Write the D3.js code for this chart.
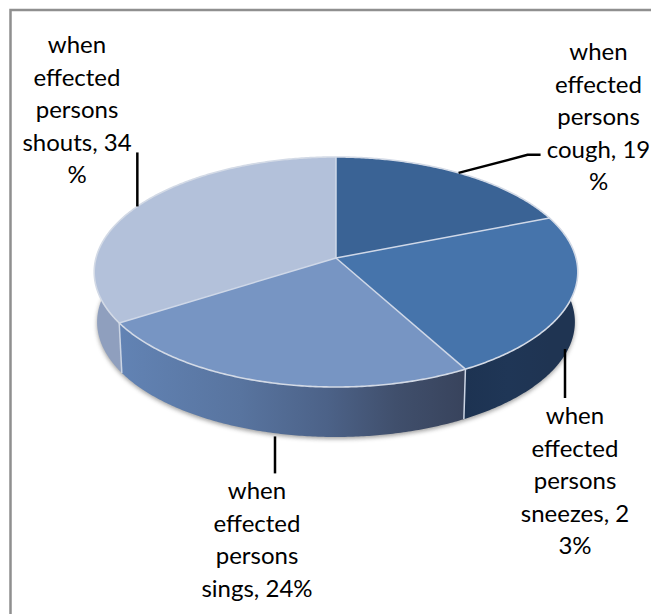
<!DOCTYPE html>
<html>
<head>
<meta charset="utf-8">
<script src="https://cdnjs.cloudflare.com/ajax/libs/d3/7.8.5/d3.min.js"></script>
<style>html,body{margin:0;padding:0;background:#fff;overflow:hidden}svg{display:block}</style>
</head>
<body>
<svg id="c" width="651" height="614"></svg>
<script>
const categories = ["cough", "sneezes", "sings", "shouts"];
const values = [19, 23, 24, 34];
const topColors = ["#3a6395", "#4674ab", "#7795c3", "#b3c1da"];
const labelLines = [
  ["when", "effected", "persons", "cough, 19", "%"],
  ["when", "effected", "persons", "sneezes, 2", "3%"],
  ["when", "effected", "persons", "sings, 24%"],
  ["when", "effected", "persons", "shouts, 34", "%"]
];
const labelCentres = [[598.5, 60], [575, 424], [257, 499], [77, 53]];
const wallStops = [
  [[0, "#1c3250"], [1, "#1c3250"]],
  [[0, "#1d3352"], [0.5, "#1f3656"], [1, "#1f3452"]],
  [[0, "#6283b4"], [0.35, "#58749f"], [0.6, "#4c6288"], [0.8, "#404f6c"], [1, "#38435c"]],
  [[0, "#8f9fbe"], [1, "#a3b0ca"]]
];

const W = 651, H = 614;
const cx = 336, cy = 258, R = 240, squash = 113.3, persp = 0.1217, depth = 50, baseScale = 0.988;
const svg = d3.select("#c");

function project(t, z = 0) {
  const s = 1 / (1 + persp * Math.cos(t));
  const k = z > 0 ? baseScale : 1;
  return [cx + R * Math.sin(t) * s * k, cy - squash * Math.cos(t) * s + z];
}
function sampleArc(a, b, z = 0) {
  const n = Math.max(2, Math.ceil(Math.abs(b - a) / 0.01));
  return d3.range(n + 1).map(i => project(a + (b - a) * i / n, z));
}
const line = d3.line();
const pie = d3.pie().sort(null).value(d => d)(values);

const defs = svg.append("defs");
defs.append("filter").attr("id", "soft").attr("x", "-10%").attr("y", "-10%").attr("width", "120%").attr("height", "120%")
  .append("feGaussianBlur").attr("stdDeviation", 2.2);

pie.forEach((p, i) => {
  const lo = Math.max(p.startAngle, Math.PI / 3), hi = Math.min(p.endAngle, Math.PI * 5 / 3);
  const x0 = project(lo)[0], x1 = project(hi)[0];
  const g = defs.append("linearGradient").attr("id", "wall" + i).attr("gradientUnits", "userSpaceOnUse")
    .attr("x1", Math.min(x0, x1)).attr("x2", Math.max(x0, x1)).attr("y1", 0).attr("y2", 0);
  wallStops[i].forEach(s => g.append("stop").attr("offset", s[0]).attr("stop-color", s[1]));
});

// frame: only the top and left edges fall inside the picture
svg.append("rect").attr("x", 10.5).attr("y", 10).attr("width", W + 20).attr("height", H + 20)
  .attr("fill", "#fff").attr("stroke", "#8f8f8f").attr("stroke-width", 2.5);

// soft shadow below the disc
svg.append("path")
  .attr("d", line(sampleArc(0, 2 * Math.PI, depth + 2)) + "Z")
  .attr("fill", "#555").attr("opacity", 0.55).attr("filter", "url(#soft)");

// side walls
const walls = svg.append("g");
pie.forEach((p, i) => {
  const lo = Math.max(p.startAngle, Math.PI / 3), hi = Math.min(p.endAngle, Math.PI * 5 / 3);
  if (hi <= lo) return;
  const pts = sampleArc(lo, hi, 0).concat(sampleArc(hi, lo, depth));
  walls.append("path").attr("d", line(pts) + "Z").attr("fill", `url(#wall${i})`);
});
// light seams on the walls
pie.forEach(p => {
  const t = p.startAngle;
  if (t < Math.PI / 2 || t > Math.PI * 3 / 2) return;
  walls.append("path").attr("d", line([project(t, 0), project(t, depth)]))
    .attr("stroke", "#ccd5e4").attr("stroke-width", 1.5).attr("fill", "none");
});

// top of the disc
const disc = svg.append("g");
pie.forEach((p, i) => {
  const pts = [[cx, cy]].concat(sampleArc(p.startAngle, p.endAngle));
  disc.append("path").attr("d", line(pts) + "Z").attr("fill", topColors[i]);
});
pie.forEach(p => {
  disc.append("path").attr("d", line([[cx, cy], project(p.startAngle)]))
    .attr("stroke", "#cfd8e8").attr("stroke-width", 1.5).attr("fill", "none");
});
disc.append("path").attr("d", line(sampleArc(0, 2 * Math.PI)) + "Z")
  .attr("fill", "none").attr("stroke", "#d3dae6").attr("stroke-width", 1.6);

// leader lines start at the slice's mid angle
const leaders = svg.append("g").attr("fill", "none").attr("stroke", "#000").attr("stroke-width", 2.5);
pie.forEach((p, i) => {
  const mid = (p.startAngle + p.endAngle) / 2;
  const visibleFront = mid > Math.PI / 2 && mid < Math.PI * 3 / 2;
  const a = project(mid, visibleFront ? depth : 0);
  let pts;
  if (i === 0) pts = [a, [a[0] + 69, a[1] - 18], [a[0] + 82, a[1] - 18]];
  else if (i === 1) pts = [[565, a[1] + 1], [565, a[1] + 50]];
  else if (i === 2) pts = [[275, a[1] + 4], [275, a[1] + 41]];
  else pts = [a, [a[0], a[1] - 54]];
  leaders.append("path").attr("d", line(pts));
});

// labels
const lineStep = 32.6;
const labels = svg.append("g").attr("font-family", "Lato, Carlito, sans-serif").attr("font-size", 24)
  .attr("fill", "#000").attr("text-anchor", "middle");
labelLines.forEach((lines, i) => {
  lines.forEach((t, j) => {
    labels.append("text").attr("x", labelCentres[i][0]).attr("y", labelCentres[i][1] + j * lineStep).text(t);
  });
});
</script>
</body>
</html>
